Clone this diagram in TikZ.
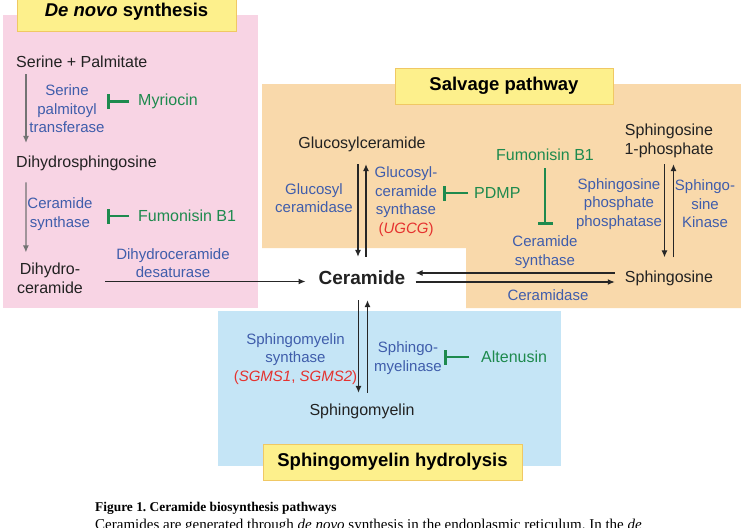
\documentclass[tikz,border=0pt]{standalone}
\usepackage{fontspec}
\setmainfont{Liberation Sans}
\newfontfamily\capfont{Liberation Serif}
\usetikzlibrary{arrows.meta}
\definecolor{pinkbg}{HTML}{F8D4E4}
\definecolor{orangebg}{HTML}{F9D9AB}
\definecolor{bluebg}{HTML}{C5E5F6}
\definecolor{titlefill}{HTML}{FDF08C}
\definecolor{titleedge}{HTML}{F0C864}
\definecolor{enzblue}{HTML}{3F5DAB}
\definecolor{inhgreen}{HTML}{1E8A4E}
\definecolor{genered}{HTML}{E5322F}
\definecolor{metabtxt}{HTML}{222222}

\begin{document}
\begin{tikzpicture}
    [x=1pt,y=-1pt,
    metab/.style={text=metabtxt,font=\fontsize{16}{19}\selectfont,inner sep=0pt,align=center},
    enzyme/.style={text=enzblue,font=\fontsize{15}{18.5}\selectfont,inner sep=1pt,align=center},
    inhibitor/.style={text=inhgreen,font=\fontsize{16}{19}\selectfont,inner sep=1pt},
    pathtitle/.style={draw=titleedge,fill=titlefill,line width=1pt,text=black,
        font=\bfseries\fontsize{18.5}{22}\selectfont,minimum height=36pt},
    rxn/.style={-{Latex[length=7pt,width=6pt]},line width=1.2pt,draw=black!85},
    rxn grey/.style={rxn,draw=black!55},
    block/.style={-{Bar[width=15pt]},line width=2.6pt,draw=inhgreen},
    caption/.style={anchor=base west,inner sep=0pt,text=black}]

\clip (0,0) rectangle (741,527);

%coloured areas of the three pathways
\fill[pinkbg] (3,15) rectangle (258,308);
\fill[orangebg] (262,84) -- (741,84) -- (741,308) -- (466,308) -- (466,248) -- (262,248) -- cycle;
\fill[bluebg] (218,311) rectangle (561,466);

%pathway titles
\node[pathtitle,minimum width=219pt,minimum height=40pt] (dntitle) at (126.5,11.5) {\textit{De novo} synthesis};
\node[pathtitle,minimum width=218pt] (svtitle) at (504,86) {Salvage pathway};
\node[pathtitle,minimum width=259pt] (smtitle) at (392.5,462) {Sphingomyelin hydrolysis};

%metabolites
\node[metab,anchor=west] (serpal) at (16,62) {Serine + Palmitate};
\node[metab,anchor=west] (dhsph) at (16,163.6) {Dihydrosphingosine};
\node[metab] (dhcer) at (50,278) {Dihydro-\\ceramide};
\node[metab,font=\bfseries\fontsize{19}{22}\selectfont] (cer) at (362,278) {Ceramide};
\node[metab] (glccer) at (362,144) {Glucosylceramide};
\node[metab] (s1p) at (669,141) {Sphingosine\\1-phosphate};
\node[metab] (sph) at (669,278) {Sphingosine};
\node[metab] (sm) at (362,411.5) {Sphingomyelin};

%enzymes
\node[enzyme] (spt) at (67,109) {Serine\\palmitoyl\\transferase};
\node[enzyme] (cers1) at (60,214) {Ceramide\\synthase};
\node[enzyme] (desat) at (173,263) {Dihydroceramide\\desaturase};
\node[enzyme] (gcase) at (314,198) {Glucosyl\\ceramidase};
\node[enzyme] (gcs) at (406,201.5) {Glucosyl-\\ceramide\\synthase\\\textcolor{genered}{(\textit{UGCG})}};
\node[enzyme] (spp) at (619,204) {Sphingosine\\phosphate\\phosphatase};
\node[enzyme] (sphk) at (705,204) {Sphingo-\\sine\\Kinase};
\node[enzyme] (cers2) at (545,252) {Ceramide\\synthase};
\node[enzyme] (cdase) at (548,295) {Ceramidase};
\node[enzyme] (sms) at (295.5,359) {Sphingomyelin\\synthase\\\textcolor{genered}{(\textit{SGMS1}, \textit{SGMS2})}};
\node[enzyme] (smase) at (408,358) {Sphingo-\\myelinase};

%inhibitors
\node[inhibitor,anchor=west] (myr) at (137,101.5) {Myriocin};
\node[inhibitor,anchor=west] (fb1) at (137,216) {Fumonisin B1};
\node[inhibitor,anchor=west] (pdmp) at (473,193) {PDMP};
\node[inhibitor] (fb2) at (545,155) {Fumonisin B1};
\node[inhibitor,anchor=west] (alt) at (480,357) {Altenusin};

%de novo steps
\draw[rxn grey,shorten <=6pt,shorten >=13pt] ([xshift=10pt]serpal.south west) -- ([xshift=10pt]dhsph.north west);
\draw[rxn grey,shorten <=11pt,shorten >=10pt] ([xshift=10pt]dhsph.south west) -- ([xshift=9pt]dhcer.north west);
\draw[rxn,shorten <=22pt,shorten >=13pt] ([yshift=-3.5pt]dhcer.east) -- ([yshift=-3.5pt]cer.west);

%salvage steps
\draw[rxn,shorten <=12.5pt,shorten >=14pt] ([xshift=-4pt]glccer.south) -- ([xshift=-4pt]cer.north);
\draw[rxn,shorten <=14pt,shorten >=12.5pt] ([xshift=4pt]cer.north) -- ([xshift=4pt]glccer.south);
\draw[rxn,shorten <=6pt,shorten >=13pt] ([xshift=-4.5pt]s1p.south) -- ([xshift=-4.5pt]sph.north);
\draw[rxn,shorten <=13pt,shorten >=6pt] ([xshift=4.5pt]sph.north) -- ([xshift=4.5pt]s1p.south);
\draw[rxn,shorten <=10pt,shorten >=10pt] ([yshift=5pt]sph.west) -- ([yshift=5pt]cer.east);
\draw[rxn,shorten <=10pt,shorten >=10pt] ([yshift=-4pt]cer.east) -- ([yshift=-4pt]sph.west);

%sphingomyelin steps
\draw[rxn,shorten <=15pt,shorten >=11pt] ([xshift=-3.5pt]cer.south) -- ([xshift=-3.5pt]sm.north);
\draw[rxn,shorten <=11pt,shorten >=15pt] ([xshift=5.5pt]sm.north) -- ([xshift=5.5pt]cer.south);

%inhibition
\draw[block,shorten <=8pt,shorten >=1.5pt] (myr.west) -- (myr.west -| spt.east);
\draw[block,shorten <=8pt,shorten >=13.5pt] (fb1.west) -- (fb1.west -| cers1.east);
\draw[block,shorten <=5pt,shorten >=4.7pt] (pdmp.west) -- (pdmp.west -| gcs.east);
\draw[block,shorten <=6pt,shorten >=9.5pt] (fb2.south) -- (cers2.north);
\draw[block,shorten <=11pt,shorten >=1.2pt] (alt.west) -- (alt.west -| smase.east);

%caption
\node[caption,font=\capfont\bfseries\fontsize{13.4}{16}\selectfont] (capt1) at (95,511) {Figure 1.\ Ceramide biosynthesis pathways};
\node[caption,font=\capfont\fontsize{15}{18}\selectfont] (capt2) at (95,529) {Ceramides are generated through \textit{de novo} synthesis in the endoplasmic reticulum.\ In the \textit{de}};

\end{tikzpicture}
\end{document}
